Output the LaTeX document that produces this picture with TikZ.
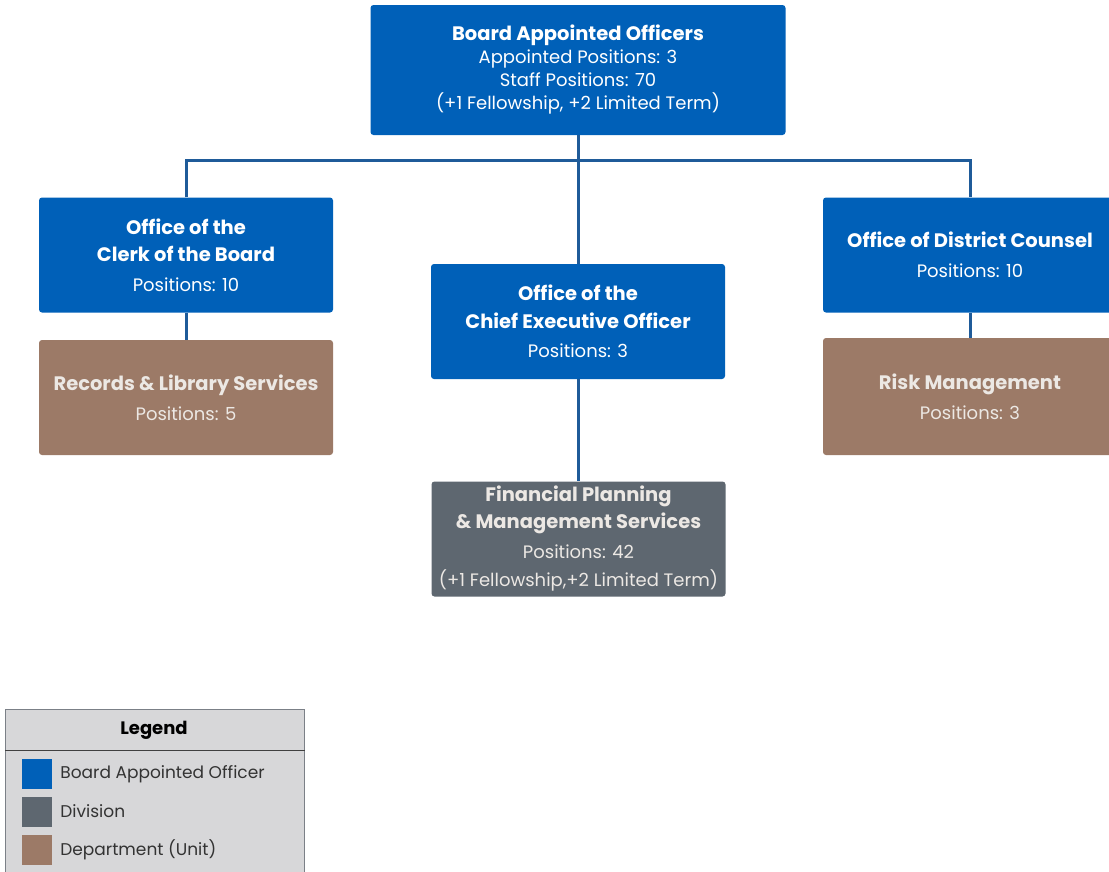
\documentclass[tikz,border=0pt]{standalone}
\usepackage{fontspec}
\setmainfont{Poppins}
\usetikzlibrary{positioning}
\definecolor{boardblue}{HTML}{0060B8}
\definecolor{divgray}{HTML}{5E6770}
\definecolor{unitbrown}{HTML}{9C7A67}
\definecolor{linkblue}{HTML}{1F5B99}
\definecolor{legendbg}{HTML}{D7D7D9}
\definecolor{legendedge}{HTML}{7B8087}
\definecolor{softwhite}{HTML}{ECE8E4}
\newcommand{\unitname}[1]{{\bfseries\fontsize{19.5}{23}\selectfont #1}}
\tikzset{
  orgbox/.style={rounded corners=3pt, minimum width=294, minimum height=115,
    align=center, inner sep=0pt, font=\fontsize{18}{23}\selectfont},
  board/.style={orgbox, fill=boardblue, text=white},
  division/.style={orgbox, fill=divgray, text=softwhite},
  unit/.style={orgbox, fill=unitbrown, text=softwhite},
  link/.style={draw=linkblue, line width=3pt},
  swatch/.style={minimum width=30, minimum height=30, inner sep=0pt},
  legendtext/.style={inner sep=0pt, text=black!80, font=\fontsize{17}{20}\selectfont}
}
\begin{document}
\begin{tikzpicture}[x=1pt,y=-1pt]
  \useasboundingbox (0,0) rectangle (1109,871);
  \clip (0,0) rectangle (1109,871);

  % boxes
  \node[board, minimum width=415, minimum height=130] (bao) at (578,70)
    {\unitname{Board Appointed Officers}\\Appointed Positions: 3\\Staff Positions: 70\\(+1 Fellowship, +2 Limited Term)};
  \node[board] (clerk) at (186,255)
    {\unitname{Office of the}\\[4pt]\unitname{Clerk of the Board}\\[7pt]Positions: 10};
  \node[board] (ceo) at (578,321.5)
    {\unitname{Office of the}\\[5pt]\unitname{Chief Executive Officer}\\[6pt]Positions: 3};
  \node[board] (counsel) at (970,255)
    {\unitname{Office of District Counsel}\\[7pt]Positions: 10};
  \node[unit] (records) at (186,397.5)
    {\unitname{Records \& Library Services}\\[7pt]Positions: 5};
  \node[unit, minimum height=117] (risk) at (970,396.5)
    {\unitname{Risk Management}\\[7pt]Positions: 3};
  \node[division] (fpms) at (578.5,539)
    {\unitname{Financial Planning}\\[4pt]\unitname{\& Management Services}\\[7pt]Positions: 42\\[5pt](+1 Fellowship,+2 Limited Term)};

  % connectors
  \coordinate (bus) at (578,160);
  \draw[link] (clerk.north) |- (bus) -| (counsel.north);
  \draw[link] (bao.south) -- (ceo.north);
  \draw[link] (ceo.south) -- (ceo.south |- fpms.north);
  \draw[link] (clerk.south) -- (records.north);
  \draw[link] (counsel.south) -- (risk.north);

  % legend
  \node[draw=legendedge, fill=legendbg, line width=1.2pt, minimum width=299,
    minimum height=190, anchor=north west, inner sep=0pt] (legend) at (5,709) {};
  \node[font=\bfseries\fontsize{18}{20}\selectfont] (legendhead) at (154,730) {Legend};
  \draw[draw=black!75, line width=1pt] (legend.west |- 0,750) -- (legend.east |- 0,750);
  \node[swatch, fill=boardblue] (swboard) at (37,774) {};
  \node[swatch, fill=divgray] (swdiv) at (37,811.5) {};
  \node[swatch, fill=unitbrown] (swunit) at (37,849.5) {};
  \node[legendtext, right=8pt of swboard] (lbboard) {Board Appointed Officer};
  \node[legendtext, right=8pt of swdiv] (lbdiv) {Division};
  \node[legendtext, right=8pt of swunit] (lbunit) {Department (Unit)};
\end{tikzpicture}
\end{document}
